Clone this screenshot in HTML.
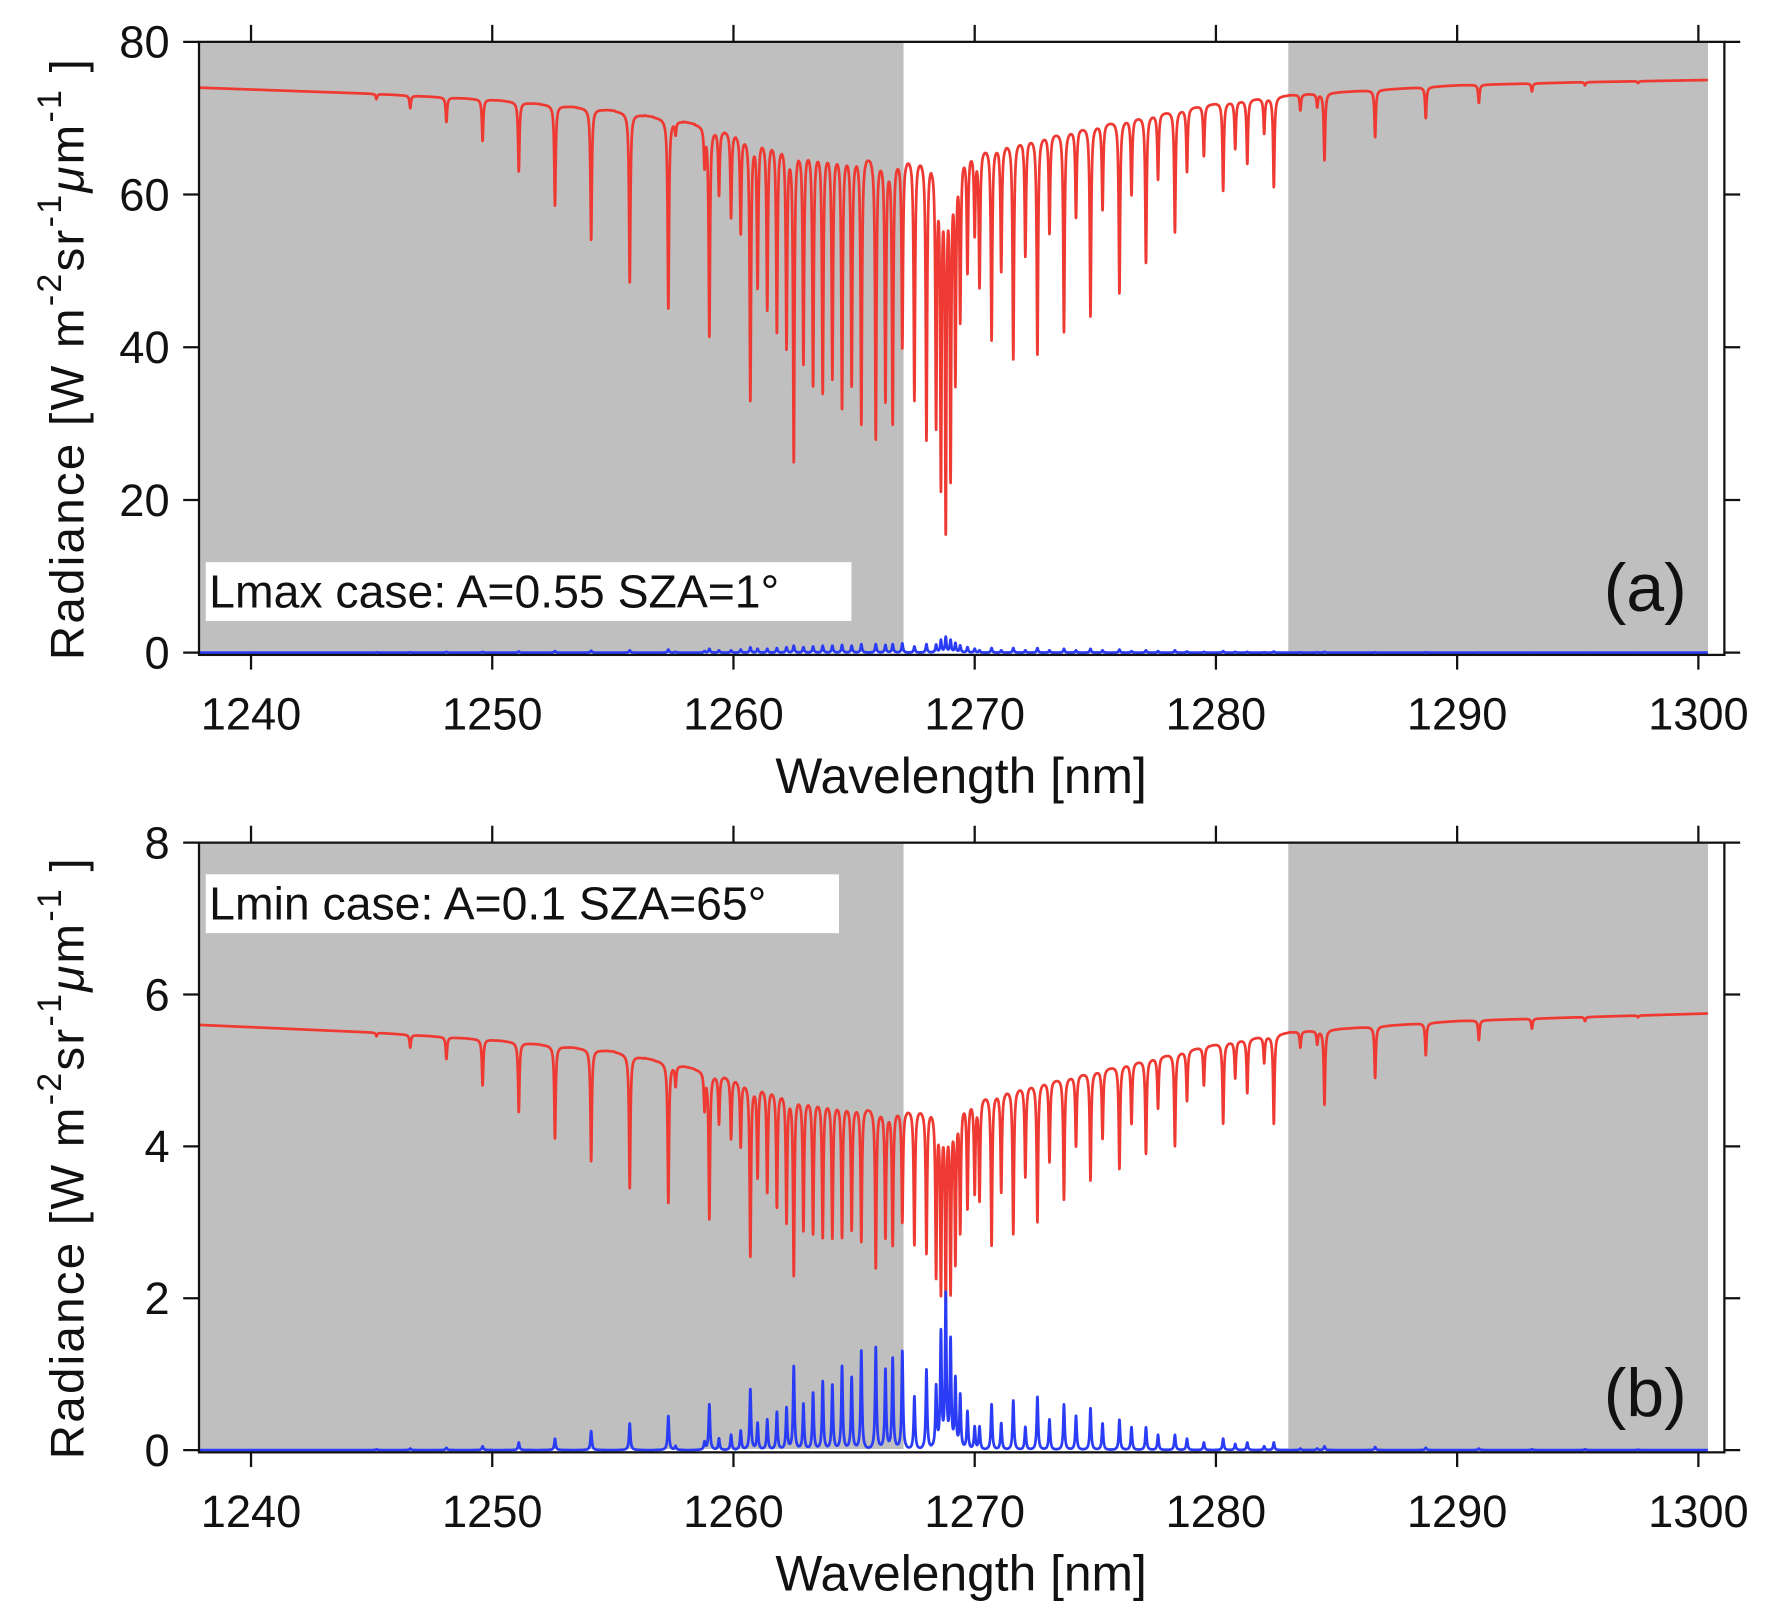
<!DOCTYPE html>
<html><head><meta charset="utf-8">
<style>
html,body{margin:0;padding:0;background:#fff;}
svg{display:block;}
text{font-family:"Liberation Sans",sans-serif;fill:#111;}
</style></head>
<body>
<svg id="chart" width="1773" height="1622" viewBox="0 0 1568 1434" preserveAspectRatio="none" xmlns="http://www.w3.org/2000/svg">
</svg>
<script>
// ---- data ----
const xTicks = [1240, 1250, 1260, 1270, 1280, 1290, 1300];
const yTicksA = [0, 20, 40, 60, 80];
const yTicksB = [0, 2, 4, 6, 8];
const shadeLeft = [1237.85, 1267.05];
const shadeRight = [1283.0, 1300.4];
const contWl = [1237.85, 1245, 1250, 1255, 1258, 1260, 1263, 1266, 1268, 1270, 1272, 1275, 1280, 1283, 1290, 1295, 1300.4];
const contA = [74.0, 73.2, 72.4, 71.0, 69.5, 68.2, 66.3, 65.2, 65.0, 66.0, 67.3, 69.2, 72.0, 73.0, 74.3, 74.7, 75.0];
const contB = [5.6, 5.5, 5.4, 5.25, 5.05, 4.9, 4.65, 4.5, 4.5, 4.65, 4.8, 5.0, 5.35, 5.5, 5.65, 5.7, 5.75];
const lineWl = [1245.2,1246.6,1248.1,1249.6,1251.1,1252.6,1254.1,1255.7,1257.3,1259.0,1260.7,1262.5,1265.9,
 1257.6,1258.8,1259.4,1259.9,1260.3,1261.0,1261.4,1261.8,1262.2,1262.9,1263.3,1263.7,1264.1,1264.5,1264.9,1265.3,1266.3,1266.6,1267.0,1267.5,1268.0,
 1268.4,1268.6,1268.8,1269.0,1269.2,1269.4,1269.7,1270.0,
 1270.7,1271.6,1272.6,1273.7,1274.8,1276.0,1277.1,1278.3,1280.3,1282.4,1284.5,1286.6,1288.7,1290.9,1293.1,1295.3,1297.5,
 1270.2,1271.1,1272.1,1273.1,1274.2,1275.3,1276.5,1277.6,1278.8,1279.5,1280.8,1281.3,1282.0,1283.5,1284.2];
const lineMinA = [72.5,71.3,69.5,67,63,58.5,54,48.5,45,41.5,33,25,28,
 68,64,60,57,55,48,45,42,40,38,35,34,36,32,35,30,33,30,40,33,28,
 30,22,16,23,36,44,50,55,
 41,38.5,39,42,44,47,51,55,60.5,61,64.5,67.5,70,72,73.5,74.3,74.6,
 48,50,52,55,57,58,60,62,63,65,66,64,68,71,71.5];
const lineMinB = [5.45,5.3,5.15,4.8,4.45,4.1,3.8,3.45,3.25,3.05,2.55,2.3,2.4,
 4.8,4.5,4.3,4.1,4.0,3.6,3.4,3.2,3.0,2.9,2.85,2.8,2.8,2.8,2.9,2.75,2.8,2.7,3.0,2.7,2.6,
 2.3,2.1,2.0,2.1,2.5,2.9,3.2,3.4,
 2.7,2.85,3.0,3.3,3.55,3.7,3.9,4.0,4.3,4.3,4.55,4.9,5.2,5.4,5.55,5.65,5.7,
 3.3,3.4,3.6,3.8,4.0,4.1,4.3,4.5,4.6,4.8,4.9,4.7,5.1,5.3,5.35];
const bluePeakB = [0.01,0.02,0.03,0.05,0.1,0.15,0.25,0.35,0.45,0.6,0.8,1.1,1.35,
 0.05,0.1,0.15,0.2,0.25,0.35,0.4,0.5,0.55,0.6,0.75,0.9,0.85,1.1,0.95,1.3,1.05,1.2,1.3,0.7,1.05,
 0.8,1.5,2.0,1.4,0.9,0.7,0.5,0.3,
 0.6,0.65,0.7,0.6,0.55,0.4,0.3,0.2,0.15,0.1,0.05,0.04,0.03,0.02,0.01,0.01,0.005,
 0.3,0.35,0.3,0.4,0.45,0.35,0.3,0.2,0.15,0.1,0.08,0.1,0.05,0.02,0.02];
const bluePeakA = [0.05,0.05,0.1,0.1,0.15,0.2,0.25,0.3,0.4,0.5,0.7,0.9,1.1,
 0.1,0.2,0.3,0.3,0.4,0.5,0.5,0.6,0.7,0.7,0.8,0.9,0.9,1.0,0.9,1.1,1.0,1.1,1.2,0.8,1.1,
 1.0,1.6,2.0,1.6,1.2,0.9,0.7,0.5,
 0.6,0.6,0.6,0.5,0.5,0.4,0.3,0.3,0.2,0.15,0.1,0.05,0.05,0.02,0.02,0.01,0.01,
 0.3,0.3,0.3,0.3,0.3,0.3,0.2,0.2,0.15,0.1,0.1,0.1,0.05,0.05,0.05];

// ---- layout (viewBox units) ----
const NS = "http://www.w3.org/2000/svg";
const svg = document.getElementById('chart');
const L = 176, R = 1525;
const xScale = v => 222 + (v - 1240) * (1502 - 222) / 60;
function mk(tag, attrs, parent) {
  const e = document.createElementNS(NS, tag);
  for (const k in attrs) e.setAttribute(k, attrs[k]);
  (parent || svg).appendChild(e);
  return e;
}
function interp(xs, ys, x) {
  if (x <= xs[0]) return ys[0];
  for (let i = 1; i < xs.length; i++) if (x <= xs[i]) {
    const t = (x - xs[i-1]) / (xs[i] - xs[i-1]); return ys[i-1] + t * (ys[i] - ys[i-1]);
  }
  return ys[ys.length - 1];
}
const W = 0.034;
function prof(x, c) { const d = (x - c) / W; return 1 / (1 + d * d); }

function panel(cfg) {
  const g = mk('g', {});
  
  
  const yScale = v => cfg.y0 + (v - 0) * (cfg.yTop - cfg.y0) / cfg.yMax;
  [shadeLeft, shadeRight].forEach((s, i) => {
    const r = mk('rect', {x: xScale(s[0]), y: cfg.yTop + 1, width: xScale(s[1]) - xScale(s[0]), height: cfg.y0 - cfg.yTop - 2, fill: '#bfbfbf'}, g);
    
    
  });
  let dr = '', db = '';
  const minArr = cfg.minArr, cont = cfg.cont, bp = cfg.blue;
  const aArr = lineWl.map((c, i) => Math.max(0, 1 - minArr[i] / interp(contWl, cont, c)));
  for (let x = 1237.85; x <= 1300.4; x += 0.006) {
    let t = 1, b = 0;
    for (let i = 0; i < lineWl.length; i++) {
      if (Math.abs(x - lineWl[i]) > 0.6) continue;
      const p = prof(x, lineWl[i]);
      t *= (1 - aArr[i] * p);
      b += bp[i] * p;
    }
    const v = interp(contWl, cont, x) * t;
    const px = xScale(x).toFixed(2);
    dr += (dr ? 'L' : 'M') + px + ' ' + yScale(v).toFixed(2);
    db += (db ? 'L' : 'M') + px + ' ' + yScale(b).toFixed(2);
  }
  const pr = mk('path', {d: dr, fill: 'none', stroke: '#ee3a32', 'stroke-width': 2.4, 'stroke-linejoin': 'round'}, g);
  
  
  const pb = mk('path', {d: db, fill: 'none', stroke: '#2a3cf5', 'stroke-width': 2.4, 'stroke-linejoin': 'round'}, g);
  
  
  const fr = mk('rect', {x: L, y: cfg.yTop, width: R - L, height: cfg.y0 + 2 - cfg.yTop, fill: 'none', stroke: '#111', 'stroke-width': 2}, g);
  
  
  xTicks.forEach(v => {
    const x = xScale(v);
    mk('line', {x1: x, x2: x, y1: cfg.y0 + 2, y2: cfg.y0 + 15, stroke: '#111', 'stroke-width': 2}, g);
    mk('line', {x1: x, x2: x, y1: cfg.yTop, y2: cfg.yTop - 15, stroke: '#111', 'stroke-width': 2}, g);
    const t = mk('text', {x: x, y: cfg.y0 + 68, 'font-size': 40, 'text-anchor': 'middle'}, g);
    t.textContent = v;
    
    
  });
  cfg.yTicks.forEach(v => {
    const y = yScale(v);
    mk('line', {x1: L, x2: L - 14, y1: y, y2: y, stroke: '#111', 'stroke-width': 2}, g);
    mk('line', {x1: R, x2: R + 14, y1: y, y2: y, stroke: '#111', 'stroke-width': 2}, g);
    const t = mk('text', {x: 150, y: y + 14, 'font-size': 40, 'text-anchor': 'end'}, g);
    t.textContent = v;
    
    
  });
  const xt = mk('text', {x: 850, y: cfg.y0 + 124, 'font-size': 44, 'text-anchor': 'middle'}, g);
  xt.textContent = 'Wavelength [nm]';
  
  
  const cy = (cfg.yTop + cfg.y0) / 2 + 10;
  const yt = mk('text', {x: 0, y: 0, 'font-size': 42, 'letter-spacing': 2, 'text-anchor': 'middle', transform: `translate(74 ${cy}) rotate(-90)`}, g);
  
  
  yt.innerHTML = 'Radiance [W m<tspan font-size="30" dy="-20">-2</tspan><tspan dy="20">sr</tspan><tspan font-size="30" dy="-20">-1</tspan><tspan dy="20" font-style="italic">μ</tspan><tspan>m</tspan><tspan font-size="30" dy="-20">-1</tspan><tspan dy="20"> ]</tspan>';
  const lb = mk('rect', {x: 182, y: cfg.legY, width: cfg.legW, height: 52, fill: '#fff'}, g);
  
  
  const lt = mk('text', {x: 185, y: cfg.legY + 40, 'font-size': 41}, g);
  lt.textContent = cfg.legText;
  
  
  const pl = mk('text', {x: 1455, y: cfg.labY, 'font-size': 60, 'text-anchor': 'middle'}, g);
  pl.textContent = cfg.label;
  
  
}

panel({name: 'panel-a', yTop: 37, y0: 577, yMax: 80, yTicks: yTicksA, cont: contA, minArr: lineMinA, blue: bluePeakA,
  legY: 497, legW: 571, legText: 'Lmax case: A=0.55 SZA=1°', label: '(a)', labY: 540});
panel({name: 'panel-b', yTop: 745, y0: 1282, yMax: 8, yTicks: yTicksB, cont: contB, minArr: lineMinB, blue: bluePeakB,
  legY: 773, legW: 560, legText: 'Lmin case: A=0.1 SZA=65°', label: '(b)', labY: 1252});
</script>
</body></html>
